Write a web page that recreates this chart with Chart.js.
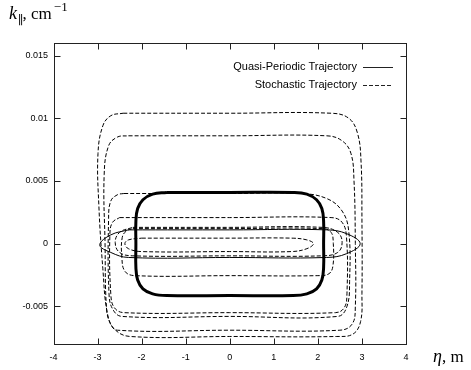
<!DOCTYPE html>
<html>
<head>
<meta charset="utf-8">
<script src="https://cdn.jsdelivr.net/npm/chart.js@4"></script>
<style>
  html, body { margin: 0; padding: 0; background: #fff; }
  #wrap { width: 471px; height: 370px; position: relative; }
</style>
</head>
<body>
<div id="wrap"><canvas id="traj" width="471" height="370"></canvas></div>
<script>
// axis ticks
const xTicks = [-4, -3, -2, -1, 0, 1, 2, 3, 4];
const yTicks = [-0.005, 0, 0.005, 0.01, 0.015];

// quasi-periodic trajectory (thick solid loop + thin lens)
const quasiMain = [[-1.43, 0.00408], [0, 0.00408], [1.44, 0.00408], [1.75, 0.00395], [1.97, 0.0035], [2.09, 0.0028], [2.13, 0.0018], [2.13, 0], [2.13, -0.0019], [2.09, -0.0029], [1.97, -0.0036], [1.75, -0.004], [1.44, -0.00414], [0, -0.00414], [-1.43, -0.00414], [-1.75, -0.004], [-1.97, -0.0036], [-2.09, -0.0029], [-2.13, -0.0019], [-2.13, 0], [-2.13, 0.0018], [-2.09, 0.0028], [-1.97, 0.0035], [-1.75, 0.00395], [-1.43, 0.00408]];
const quasiLens = [[-2.3, 0.0011], [0, 0.0011], [2.2, 0.0011], [2.65, 0.0008], [2.96, 0], [2.65, -0.0008], [2.2, -0.0011], [0, -0.0011], [-2.3, -0.0011], [-2.7, -0.0007], [-2.95, -0.0001], [-2.7, 0.0007], [-2.3, 0.0011]];

// stochastic trajectory loops
const stochA = [[-2.42, 0.0104], [0, 0.0104], [2.3, 0.0104], [2.7, 0.01], [2.9, 0.0088], [2.98, 0.0065], [3.0, 0.002], [3.0, -0.004], [2.97, -0.0062], [2.8, -0.0072], [2.43, -0.0074], [0, -0.0074], [-2.26, -0.0074], [-2.62, -0.0068], [-2.78, -0.0055], [-2.88, -0.002], [-2.97, 0.003], [-2.99, 0.0072], [-2.88, 0.0094], [-2.7, 0.0102], [-2.42, 0.0104]];
const stochB = [[-2.3, 0.0086], [0, 0.0086], [2.2, 0.0086], [2.55, 0.0082], [2.75, 0.0072], [2.82, 0.005], [2.85, 0], [2.85, -0.005], [2.78, -0.0064], [2.5, -0.0069], [0, -0.0069], [-2.55, -0.0069], [-2.72, -0.0063], [-2.8, -0.005], [-2.83, 0], [-2.85, 0.0055], [-2.75, 0.0078], [-2.55, 0.0085], [-2.3, 0.0086]];
const stochC = [[-2.4, 0.004], [0, 0.004], [1.6, 0.004], [2.2, 0.0036], [2.55, 0.0026], [2.7, 0.001], [2.72, -0.003], [2.66, -0.005], [2.45, -0.0058], [0, -0.0058], [-2.45, -0.0058], [-2.66, -0.0052], [-2.74, -0.004], [-2.75, 0.002], [-2.7, 0.0034], [-2.55, 0.0039], [-2.4, 0.004]];
const stochD = [[-2.5, 0.00208], [0, 0.00208], [2.3, 0.00208], [2.55, 0.0017], [2.65, 0.0005], [2.66, -0.004], [2.6, -0.0051], [2.4, -0.0055], [0, -0.0055], [-2.4, -0.0055], [-2.62, -0.0051], [-2.7, -0.004], [-2.72, 0.0008], [-2.66, 0.0017], [-2.5, 0.00208]];
const stochE = [[-2.2, 0.0012], [0, 0.0012], [2.1, 0.0012], [2.3, 0.0009], [2.35, 0], [2.34, -0.0018], [2.25, -0.0024], [2.0, -0.00255], [0, -0.00255], [-2.15, -0.00255], [-2.38, -0.0022], [-2.45, -0.001], [-2.44, 0.0005], [-2.35, 0.001], [-2.2, 0.0012]];
const stochF = [[-2.0, 0.00044], [0, 0.00044], [1.4, 0.00044], [1.75, 0.0003], [1.9, 0], [1.75, -0.0004], [1.4, -0.00063], [0, -0.00063], [-2.0, -0.00063], [-2.3, -0.0004], [-2.38, 0], [-2.3, 0.0003], [-2.0, 0.00044]];
const stochH = [[-2.2, 0.0013], [0, 0.0013], [2.1, 0.0013], [2.45, 0.0009], [2.55, 0.0001], [2.45, -0.0007], [2.1, -0.00097], [0, -0.00097], [-2.2, -0.00097], [-2.5, -0.0007], [-2.6, 0.0001], [-2.5, 0.0009], [-2.2, 0.0013]];

const stochLoops = [stochA, stochB, stochC, stochD, stochE, stochF, stochH];

function pts(arr) {
  return arr.map(p => ({ x: p[0], y: p[1] }));
}

const dashed = stochLoops.map(loop => ({
  label: 'Stochastic Trajectory',
  data: pts(loop),
  borderColor: '#000',
  borderWidth: 1,
  borderDash: [4, 2],
  showLine: true,
  pointRadius: 0,
  tension: 0.4
}));

const datasets = dashed.concat([
  {
    label: 'Quasi-Periodic Trajectory',
    data: pts(quasiLens),
    borderColor: '#000',
    borderWidth: 1,
    showLine: true,
    pointRadius: 0,
    tension: 0.4
  },
  {
    label: 'Quasi-Periodic Trajectory',
    data: pts(quasiMain),
    borderColor: '#000',
    borderWidth: 3,
    showLine: true,
    pointRadius: 0,
    tension: 0.4
  }
]);

// frame, inward ticks, legend and axis titles
const decor = {
  id: 'decor',
  afterDraw(chart) {
    const c = chart.ctx;
    const a = chart.chartArea;
    const xs = chart.scales.x, ys = chart.scales.y;
    const L = Math.round(a.left) + 0.5, R = Math.round(a.right) + 0.5;
    const T = Math.round(a.top) + 0.5, B = Math.round(a.bottom) + 0.5;
    c.save();
    c.strokeStyle = '#222';
    c.lineWidth = 1;
    c.strokeRect(L, T, R - L, B - T);
    c.beginPath();
    xTicks.forEach(v => {
      const px = Math.round(xs.getPixelForValue(v)) + 0.5;
      c.moveTo(px, B); c.lineTo(px, B - 6);
      c.moveTo(px, T); c.lineTo(px, T + 6);
    });
    yTicks.forEach(v => {
      const py = Math.round(ys.getPixelForValue(v)) + 0.5;
      c.moveTo(L, py); c.lineTo(L + 6, py);
      c.moveTo(R, py); c.lineTo(R - 6, py);
    });
    c.stroke();

    // legend
    c.fillStyle = '#000';
    c.font = '11px "Liberation Sans", Arial, sans-serif';
    c.textAlign = 'right';
    c.textBaseline = 'middle';
    c.fillText('Quasi-Periodic Trajectory', 357, 67);
    c.fillText('Stochastic Trajectory', 357, 85);
    c.beginPath();
    c.moveTo(363, 67.5); c.lineTo(393, 67.5);
    c.stroke();
    c.setLineDash([4, 2]);
    c.beginPath();
    c.moveTo(363, 85.5); c.lineTo(393, 85.5);
    c.stroke();
    c.setLineDash([]);

    // axis titles
    c.textAlign = 'left';
    c.textBaseline = 'alphabetic';
    let x = 9;
    c.font = 'italic 18px "Liberation Serif", serif';
    c.fillText('k', x, 19); x += c.measureText('k').width + 1;
    c.font = '12px "DejaVu Serif", serif';
    c.fillText('\u2225', x, 24); x += c.measureText('\u2225').width - 1;
    c.font = '17px "Liberation Serif", serif';
    c.fillText(', cm', x, 19); x += c.measureText(', cm').width + 2;
    c.font = '13px "Liberation Serif", serif';
    c.fillText('\u22121', x, 11);

    x = 433;
    c.font = 'italic 18px "Liberation Serif", serif';
    c.fillText('\u03b7', x, 362); x += c.measureText('\u03b7').width;
    c.font = '17px "Liberation Serif", serif';
    c.fillText(', m', x, 362);
    c.restore();
  }
};

const chart = new Chart(document.getElementById('traj'), {
  type: 'scatter',
  data: { datasets: datasets },
  options: {
    responsive: false,
    animation: false,
    devicePixelRatio: 1,
    layout: { padding: { left: 0, right: 65, top: 43, bottom: 0 } },
    plugins: {
      legend: { display: false },
      tooltip: { enabled: false }
    },
    scales: {
      x: {
        type: 'linear',
        min: -4,
        max: 4,
        afterBuildTicks: s => { s.ticks = xTicks.map(v => ({ value: v })); },
        afterFit: s => { s.height = 26; },
        grid: { display: false, drawTicks: false },
        border: { display: false },
        ticks: {
          padding: 8,
          color: '#000',
          font: { family: '"Liberation Sans", Arial, sans-serif', size: 9 },
          callback: v => String(v)
        }
      },
      y: {
        type: 'linear',
        min: -0.008,
        max: 0.016,
        afterBuildTicks: s => { s.ticks = yTicks.map(v => ({ value: v })); },
        afterFit: s => { s.width = 53.5; },
        grid: { display: false, drawTicks: false },
        border: { display: false },
        ticks: {
          padding: 5.5,
          color: '#000',
          font: { family: '"Liberation Sans", Arial, sans-serif', size: 9 },
          callback: v => String(v)
        }
      }
    }
  },
  plugins: [decor]
});
</script>
</body>
</html>
